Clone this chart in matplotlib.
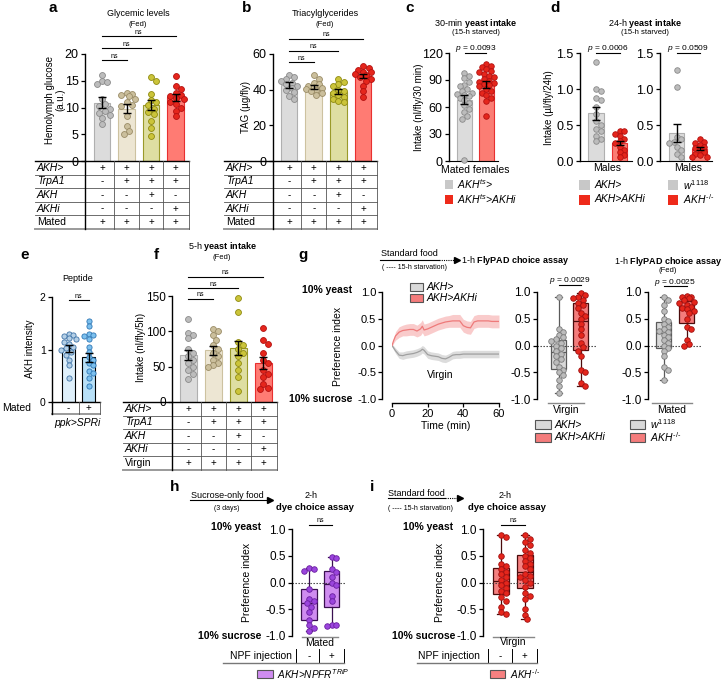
import numpy as np
import matplotlib.pyplot as plt
from matplotlib.lines import Line2D
from matplotlib.patches import Rectangle

plt.rcParams['font.family'] = ['Liberation Sans', 'DejaVu Sans']
plt.rcParams['mathtext.fontset'] = 'custom'
plt.rcParams['mathtext.rm'] = 'Liberation Sans'
plt.rcParams['mathtext.it'] = 'Liberation Sans:italic'
plt.rcParams['mathtext.bf'] = 'Liberation Sans:bold'
plt.rcParams['axes.unicode_minus'] = False
plt.rcParams['font.size'] = 7

# ---------------- data ----------------
# a: hemolymph glucose (a.u.)
a_means = [10.9, 9.8, 10.5, 11.9]
a_sems = [1.0, 0.85, 0.9, 0.65]
a_pts = [
    [16.0, 15.0, 14.7, 14.3, 11.5, 10.6, 10.2, 9.8, 9.4, 9.0, 8.6, 8.0, 7.0],
    [12.7, 12.5, 12.3, 12.1, 11.5, 11.0, 10.5, 10.3, 8.5, 6.5, 5.6, 5.1],
    [15.7, 15.0, 12.5, 11.4, 11.0, 10.5, 9.8, 9.2, 8.8, 7.5, 6.1, 4.6],
    [15.8, 14.0, 13.4, 12.8, 12.4, 12.1, 11.8, 11.5, 11.0, 10.6, 10.0, 9.4, 8.4],
]
# b: TAG (ug/fly)
b_means = [42.8, 41.5, 38.8, 47.8]
b_sems = [1.7, 1.3, 1.4, 1.2]
b_pts = [
    [48.5, 47, 46, 45, 44, 43, 42, 41, 40, 38.5, 36.5, 35],
    [48, 46, 44, 43, 42, 41.5, 41, 40.5, 40, 39, 38, 37],
    [46, 44.5, 43, 42, 40, 39, 38, 37, 36, 35, 33.5, 33],
    [53, 52, 51, 50, 50, 49, 48, 47, 46, 45, 42, 39, 36],
]
# c: 30-min yeast intake
c_means = [68, 85]
c_sems = [5, 3.5]
c_pts = [
    [98, 95, 92, 88, 85, 83, 80, 78, 76, 75, 73, 72, 70, 68, 65, 62, 58, 55, 50, 47, 1],
    [108, 106, 104, 102, 100, 99, 97, 95, 93, 91, 89, 88, 87, 86, 85, 83, 80, 78, 76, 73, 70, 67, 50],
]
# d: 24-h yeast intake (males)
d1_means = [0.66, 0.25]
d1_sems = [0.09, 0.03]
d1_pts = [
    [1.38, 1.0, 0.97, 0.88, 0.85, 0.75, 0.65, 0.55, 0.5, 0.45, 0.42, 0.35, 0.3, 0.28],
    [0.42, 0.42, 0.38, 0.35, 0.3, 0.28, 0.25, 0.2, 0.15, 0.12, 0.08, 0.05],
]
d2_means = [0.39, 0.17]
d2_sems = [0.12, 0.02]
d2_pts = [
    [1.26, 1.03, 0.33, 0.3, 0.27, 0.25, 0.2, 0.15, 0.1, 0.05],
    [0.3, 0.27, 0.25, 0.22, 0.2, 0.18, 0.15, 0.12, 0.1, 0.08, 0.06, 0.05],
]
# e: AKH intensity
e_means = [1.02, 0.85]
e_sems = [0.06, 0.09]
e_pts = [
    [1.3, 1.28, 1.25, 1.22, 1.2, 1.15, 1.1, 1.05, 1.02, 1.0, 0.95, 0.9, 0.8, 0.7, 0.45],
    [1.55, 1.45, 1.3, 1.28, 1.25, 1.2, 1.05, 0.95, 0.85, 0.8, 0.75, 0.7, 0.6, 0.55, 0.45, 0.3],
]
# f: 5-h yeast intake
f_means = [67, 73, 76, 55]
f_sems = [7, 6, 10, 8]
f_pts = [
    [118, 98, 95, 90, 75, 70, 65, 60, 55, 50, 45, 40, 32],
    [103, 100, 95, 88, 80, 75, 70, 65, 60, 55, 52, 50],
    [147, 128, 85, 80, 75, 70, 65, 55, 45, 35, 15],
    [105, 88, 82, 70, 60, 55, 45, 40, 35, 25, 20, 18],
]
# g: FlyPAD preference over time
g_time = [0, 1, 2, 4, 6, 8, 10, 12, 14, 16, 17, 18, 20, 22, 24, 26, 28, 30,
          32, 34, 36, 38, 40, 42, 44, 46, 48, 50, 52, 54, 56, 58, 60]
g_red = [0.00, 0.10, 0.18, 0.25, 0.28, 0.29, 0.30, 0.30, 0.27, 0.31, 0.36, 0.29, 0.31, 0.34, 0.37, 0.40, 0.42, 0.44,
         0.45, 0.46, 0.46, 0.46, 0.37, 0.34, 0.33, 0.44, 0.46, 0.46, 0.46, 0.46, 0.45, 0.45, 0.45]
g_red_sem = [0.02, 0.05, 0.08, 0.10, 0.10, 0.11, 0.11, 0.11, 0.11, 0.12, 0.12, 0.11, 0.11, 0.11, 0.11, 0.11, 0.11, 0.11,
             0.11, 0.12, 0.12, 0.12, 0.12, 0.12, 0.12, 0.12, 0.12, 0.12, 0.12, 0.12, 0.12, 0.12, 0.12]
g_gray = [0.00, -0.05, -0.10, -0.18, -0.19, -0.17, -0.16, -0.15, -0.13, -0.10, -0.07, -0.09, -0.17, -0.19, -0.20, -0.21,
          -0.24, -0.25, -0.22, -0.18, -0.17, -0.17, -0.16, -0.16, -0.16, -0.16, -0.16, -0.16, -0.16, -0.16, -0.16,
          -0.16, -0.16]
g_gray_sem = [0.02, 0.04, 0.05, 0.06, 0.07, 0.07, 0.07, 0.07, 0.07, 0.07, 0.07, 0.07, 0.07, 0.07, 0.07, 0.07,
              0.07, 0.07, 0.07, 0.07, 0.07, 0.07, 0.07, 0.07, 0.07, 0.07, 0.07, 0.07, 0.07, 0.07, 0.07, 0.07, 0.07]
g1_pts = [
    [0.9, 0.3, 0.25, 0.2, 0.15, 0.12, 0.08, 0.05, 0.0, -0.05, -0.1, -0.15, -0.2, -0.25, -0.3,
     -0.4, -0.45, -0.5, -0.55, -0.65, -0.75, -0.88],
    [0.98, 0.95, 0.9, 0.88, 0.85, 0.8, 0.75, 0.7, 0.6, 0.55, 0.5, 0.4, 0.3, 0.2, 0.05, -0.03,
     -0.1, -0.2, -0.45, -0.5, -0.7, -0.75],
]
g2_pts = [
    [0.9, 0.85, 0.75, 0.65, 0.5, 0.45, 0.4, 0.35, 0.3, 0.28, 0.25, 0.2, 0.15, 0.1, 0.05, 0.0,
     -0.05, -0.1, -0.2, -0.4, -0.45, -0.65],
    [0.92, 0.9, 0.9, 0.88, 0.85, 0.82, 0.8, 0.75, 0.72, 0.7, 0.68, 0.65, 0.6, 0.5, 0.35, 0.3,
     0.1, 0.02, 0.0],
]
# h / i: dye choice assay
h_pts = [
    [0.27, 0.25, 0.22, -0.12, -0.3, -0.35, -0.38, -0.45, -0.55, -0.7, -0.8, -0.85, -0.9],
    [0.48, 0.45, 0.25, 0.2, 0.1, 0.0, -0.05, -0.25, -0.35, -0.8, -0.8, -0.82],
]
i_pts = [
    [0.88, 0.85, 0.5, 0.35, 0.3, 0.25, 0.2, 0.15, 0.1, 0.05, 0.0, -0.05, -0.1, -0.15, -0.2,
     -0.28, -0.35, -0.45, -0.55, -0.58],
    [0.88, 0.82, 0.75, 0.7, 0.6, 0.56, 0.5, 0.45, 0.4, 0.35, 0.3, 0.25, 0.15, 0.12, 0.1, 0.05,
     0.0, -0.08, -0.2, -0.25, -0.3, -0.5, -0.6, -0.68],
]

rows_mated = ['AKH>', 'TrpA1', 'AKH', 'AKHi', 'Mated']
rows_virgin = ['AKH>', 'TrpA1', 'AKH', 'AKHi', 'Virgin']
geno_vals = [['+', '+', '+', '+'], ['-', '+', '+', '+'], ['-', '-', '+', '-'],
             ['-', '-', '-', '+'], ['+', '+', '+', '+']]
pref_ticks = [-1.0, -0.5, 0.0, 0.5, 1.0]
pref_labels = ['-1.0', '-0.5', '0.0', '0.5', '1.0']

# colours
bar_fill4 = ['#dcdcdc', '#ede6d3', '#dedea2', '#ff7b73']
bar_edge4 = ['#b0b0b0', '#cdc2a0', '#9a9a2a', '#e83030']
dot_fill4 = ['#bcbcbc', '#cbbf9c', '#cbc43a', '#e5261c']
dot_edge4 = ['#8a8a8a', '#9a8c66', '#8f8a10', '#b31010']
bar_fill2 = ['#dcdcdc', '#fb7d74']
bar_edge2 = ['#b0b0b0', '#e83030']
dot_fill2 = ['#bcbcbc', '#e5261c']
dot_edge2 = ['#8a8a8a', '#b31010']

# ---------------- helpers ----------------
W, H = 722, 681
fig = plt.figure(figsize=(W / 100, H / 100), dpi=100)


def pax(x0, y0, x1, y1):
    ax = fig.add_axes([x0 / W, 1 - y1 / H, (x1 - x0) / W, (y1 - y0) / H])
    ax.patch.set_visible(False)
    return ax


def ftext(x, y, s, **kw):
    kw.setdefault('ha', 'center')
    kw.setdefault('va', 'center')
    fig.text(x / W, 1 - y / H, s, **kw)


def fline(xs, ys, **kw):
    kw.setdefault('color', 'black')
    kw.setdefault('lw', 0.8)
    fig.add_artist(Line2D([x / W for x in xs], [1 - y / H for y in ys], **kw))


def fbox(x, y, w, h, fc, ec='none', lw=0.8):
    fig.add_artist(Rectangle((x / W, 1 - (y + h / 2) / H), w / W, h / H,
                             facecolor=fc, edgecolor=ec, lw=lw))


def arrow_tip(x, y):
    fig.add_artist(Line2D([x / W], [1 - y / H], marker='>', ms=4, color='black', lw=0))


def swarm(ypx, d, maxk=3):
    # simple deterministic beeswarm, offsets in pixels
    order = np.argsort(-ypx, kind='stable')
    placed = []
    off = np.zeros(len(ypx))
    for i in order:
        y = ypx[i]
        best, best_gap = 0.0, -1
        for k in [0] + [s * m for m in range(1, maxk + 1) for s in (1, -1)]:
            x = k * d * 0.45
            gap = min([np.hypot(x - px, y - py) for px, py in placed] + [99])
            if gap >= 0.85 * d:
                best = x
                break
            if gap > best_gap:
                best, best_gap = x, gap
        placed.append((best, y))
        off[i] = best
    return off


def dots(ax, pos, vals, fc, ec, ppx, ppy, d=6, s=18):
    vals = np.asarray(vals, float)
    off = swarm(vals * ppy, d)
    ax.scatter(pos + off / ppx, vals, s=s, c=fc, edgecolors=ec, linewidths=0.6,
               zorder=3, clip_on=False)


def yaxis(ax, ylim, ticks, labels=None, fs=9):
    ax.set_ylim(ylim)
    ax.set_yticks(ticks)
    if labels is not None:
        ax.set_yticklabels(labels)
    for s in ['top', 'right', 'bottom']:
        ax.spines[s].set_visible(False)
    ax.spines['left'].set_linewidth(1.0)
    ax.tick_params(axis='y', length=3, width=0.9, pad=1.5, labelsize=fs)
    ax.set_xticks([])


def bar_panel(x0, x1, c0, sp, yt, yb, ylim, ticks, means, sems, pts, fills, edges, dfc, dec,
              fs=9, labels=None, d=6, s=18):
    ax = pax(x0, yt, x1, yb)
    ax.set_xlim((x0 - c0) / sp, (x1 - c0) / sp)
    yaxis(ax, ylim, ticks, labels, fs)
    pos = np.arange(len(means))
    ax.bar(pos, means, width=0.68, color=fills, edgecolor=edges, linewidth=0.8, zorder=1)
    ppy = (yb - yt) / (ylim[1] - ylim[0])
    for i, v in enumerate(pts):
        dots(ax, pos[i], v, dfc[i], dec[i], sp, ppy, d=d, s=s)
    ax.errorbar(pos, means, yerr=sems, fmt='none', ecolor='black', elinewidth=1.0,
                capsize=3, capthick=1.0, zorder=4)
    return ax


def table(x0, x1, c0, sp, ytop, rh, rows, vals, label_x, italic_rows, line_left=None):
    n = len(rows)
    ybot = ytop + n * rh
    left = label_x - 2 if line_left is None else line_left
    fline([left, x1], [ytop, ytop], lw=1.0)
    for k in range(1, n + 1):
        yy = ytop + k * rh
        if k == n:
            fline([left, x1], [yy, yy], color='#9a9a9a', lw=1.4)
        else:
            fline([left, x1], [yy, yy], color='#555555', lw=0.6)
    ncol = len(vals[0])
    xs = [x0] + [c0 + (j + 0.5) * sp for j in range(ncol - 1)] + [x1]
    for j, xx in enumerate(xs):
        fline([xx, xx], [ytop, ybot], color='black' if j == 0 else '#555555',
              lw=1.0 if j == 0 else 0.6)
    for i, r in enumerate(rows):
        yc = ytop + (i + 0.5) * rh
        ftext(label_x, yc, r, ha='left', fontsize=7.5,
              style='italic' if i in italic_rows else 'normal')
        for j, v in enumerate(vals[i]):
            ftext(c0 + j * sp, yc, v, fontsize=7)


def bracket(xa, xb, y, s, fs=5, dy=4):
    fline([xa, xb], [y, y], lw=0.8)
    ftext((xa + xb) / 2, y - dy, s, fontsize=fs)


def box_panel(x0, x1, c0, sp, yt, yb, groups, fcs, ecs, dfcs, decs, fs=8.5):
    ax = pax(x0, yt, x1, yb)
    ax.set_xlim((x0 - c0) / sp, (x1 - c0) / sp)
    yaxis(ax, (-1, 1), pref_ticks, pref_labels, fs)
    ax.plot([(x0 - c0) / sp, (x1 - c0) / sp], [0, 0], ls=(0, (1.2, 1.5)), color='#333333',
            lw=0.8, zorder=2, clip_on=False)
    ppy = (yb - yt) / 2.0
    for k, g in enumerate(groups):
        ax.boxplot([g], positions=[k], widths=0.68, whis=(0, 100), patch_artist=True,
                   showfliers=False, capwidths=0.3, manage_ticks=False, zorder=1,
                   boxprops=dict(facecolor=fcs[k], edgecolor=ecs[k], linewidth=0.9),
                   medianprops=dict(color=ecs[k], linewidth=0.9),
                   whiskerprops=dict(color=ecs[k], linewidth=0.9),
                   capprops=dict(color=ecs[k], linewidth=0.9))
        dots(ax, k, g, dfcs[k], decs[k], sp, ppy, d=5.5, s=16)
    return ax


# ---------------- panel a ----------------
ftext(53, 8, 'a', fontsize=11, weight='bold')
ftext(138, 14, 'Glycemic levels', fontsize=6.5)
ftext(138, 24, '(Fed)', fontsize=5.5)
bar_panel(85, 189, 102, 24.5, 54, 161, (0, 20), [0, 5, 10, 15, 20],
          a_means, a_sems, a_pts, bar_fill4, bar_edge4, dot_fill4, dot_edge4)
ftext(55, 100, 'Hemolymph glucose\n(a.u.)', rotation=90, fontsize=7, linespacing=1.1)
table(85, 189, 102, 24.5, 161, 13.6, rows_mated, geno_vals, 37, [0, 1, 2, 3])
for k, yy in zip([1, 2, 3], [60, 48, 36]):
    bracket(102, 102 + k * 24.5, yy, 'ns')

# ---------------- panel b ----------------
ftext(247, 8, 'b', fontsize=11, weight='bold')
ftext(325, 14, 'Triacylglycerides', fontsize=6.5)
ftext(325, 24, '(Fed)', fontsize=5.5)
bar_panel(273, 377, 289, 24.7, 54, 161, (0, 60), [0, 20, 40, 60],
          b_means, b_sems, b_pts, bar_fill4, bar_edge4, dot_fill4, dot_edge4)
ftext(246, 107, 'TAG (µg/fly)', rotation=90, fontsize=7)
table(273, 377, 289, 24.7, 161, 13.6, rows_mated, geno_vals, 226, [0, 1, 2, 3])
for k, yy in zip([1, 2, 3], [62, 51, 39]):
    bracket(289, 289 + k * 24.7, yy, 'ns')

# ---------------- panel c ----------------
ftext(410, 8, 'c', fontsize=11, weight='bold')
ftext(476, 23, r'30-min $\mathbf{yeast\ intake}$', fontsize=6.5)
ftext(476, 33, '(15-h starved)', fontsize=5.5)
axc = bar_panel(449, 498, 464.5, 22, 53, 161, (0, 120), [0, 30, 60, 90, 120],
                c_means, c_sems, c_pts, bar_fill2, bar_edge2, dot_fill2, dot_edge2, d=5.5, s=16)
axc.spines['bottom'].set_visible(True)
ftext(419, 107, 'Intake (nl/fly/30 min)', rotation=90, fontsize=7)
ftext(475, 170, 'Mated females', fontsize=7.5)
bracket(464.5, 486.5, 53, r'$p$ = 0.0093', fs=6, dy=4)
fbox(445, 184, 8, 9, '#c8c8c8')
fbox(445, 199, 8, 9, '#ee2a1a')
ftext(457, 184, r'$AKH^{ts}$>', ha='left', fontsize=7.5, style='italic')
ftext(457, 199, r'$AKH^{ts}$>AKHi', ha='left', fontsize=7.5, style='italic')

# ---------------- panel d ----------------
ftext(555, 8, 'd', fontsize=11, weight='bold')
ftext(645, 23, r'24-h $\mathbf{yeast\ intake}$', fontsize=6.5)
ftext(645, 33, '(15-h starved)', fontsize=5.5)
dticks = [0, 0.5, 1.0, 1.5]
dlabels = ['0.0', '0.5', '1.0', '1.5']
axd1 = bar_panel(580, 632, 596, 23.5, 53, 161, (0, 1.5), dticks, d1_means, d1_sems, d1_pts,
                 bar_fill2, bar_edge2, dot_fill2, dot_edge2, labels=dlabels, d=5.5, s=16)
axd2 = bar_panel(660, 712, 676.5, 23, 53, 161, (0, 1.5), dticks, d2_means, d2_sems, d2_pts,
                 bar_fill2, bar_edge2, dot_fill2, dot_edge2, labels=dlabels, d=5.5, s=16)
for a_ in (axd1, axd2):
    a_.spines['bottom'].set_visible(True)
ftext(549, 108, 'Intake (µl/fly/24h)', rotation=90, fontsize=7)
ftext(607, 168, 'Males', fontsize=7.5)
ftext(688, 168, 'Males', fontsize=7.5)
bracket(596, 619.5, 53, r'$p$ = 0.0006', fs=6, dy=4)
bracket(676.5, 699.5, 53, r'$p$ = 0.0509', fs=6, dy=4)
fbox(579, 185, 11, 10, '#c8c8c8')
fbox(579, 199.5, 11, 10, '#ee2a1a')
ftext(595, 185, 'AKH>', ha='left', fontsize=7.5, style='italic')
ftext(595, 199.5, 'AKH>AKHi', ha='left', fontsize=7.5, style='italic')
fbox(668, 185, 10, 10, '#c8c8c8')
fbox(668, 199.5, 10, 10, '#ee2a1a')
ftext(683, 185, r'$w^{\mathit{1118}}$', ha='left', fontsize=7.5, style='italic')
ftext(683, 199.5, r'$AKH^{\text{-/-}}$', ha='left', fontsize=7.5, style='italic')

# ---------------- panel e ----------------
ftext(25, 255, 'e', fontsize=11, weight='bold')
ftext(78, 278, 'Peptide', fontsize=6.5)
bar_panel(52, 100, 68.5, 20, 297, 402, (0, 2), [0, 1, 2],
          e_means, e_sems, e_pts, ['#dff0fb', '#b8e0f7'], ['black', 'black'],
          ['#b4cfe6', '#7cc0ee'], ['#3f74a8', '#2f77b5'], fs=7.5, d=5.2, s=14)
ftext(30, 349, 'AKH intensity', rotation=90, fontsize=7)
table(52, 100, 68.5, 20, 402, 12.5, ['Mated'], [['-', '+']], 2, [], line_left=52)
ftext(77, 423, 'ppk>SPRi', fontsize=7.5, style='italic')
bracket(68.5, 88.5, 300, 'ns')

# ---------------- panel f ----------------
ftext(156, 255, 'f', fontsize=11, weight='bold')
ftext(222, 247, r'5-h $\mathbf{yeast\ intake}$', fontsize=6.5)
ftext(222, 257, '(Fed)', fontsize=5.5)
bar_panel(172, 277, 188, 25, 296, 402, (0, 150), [0, 50, 100, 150],
          f_means, f_sems, f_pts, bar_fill4, bar_edge4, dot_fill4, dot_edge4, fs=8.5)
ftext(141, 347, 'Intake (nl/fly/5h)', rotation=90, fontsize=7)
table(172, 277, 188, 25, 402, 13.5, rows_virgin, geno_vals, 125, [0, 1, 2, 3])
for k, yy in zip([1, 2, 3], [299, 288, 277]):
    bracket(188, 188 + k * 25, yy, 'ns')

# ---------------- panel g ----------------
ftext(303, 255, 'g', fontsize=11, weight='bold')
ftext(409, 254, 'Standard food', fontsize=6.5)
fline([380, 439], [260, 260], lw=0.8)
fline([439, 455], [260, 260], lw=0.8, ls=(0, (1, 1)))
arrow_tip(457, 260)
ftext(461, 260, r'1-h $\mathbf{FlyPAD\ choice\ assay}$', ha='left', fontsize=6.5)
ftext(414, 268, '( ---- 15-h starvation)', fontsize=5)
ftext(352, 290, '10% yeast', ha='right', fontsize=7.5, weight='bold')
ftext(352, 399, '10% sucrose', ha='right', fontsize=7.5, weight='bold')
ftext(338, 346, 'Preference index', rotation=90, fontsize=7.5)

axg = pax(392, 292, 499, 399)
axg.set_xlim(0, 60)
axg.set_ylim(-1, 1)
t = np.array(g_time)
r_ = np.array(g_red)
rs = np.array(g_red_sem)
g_ = np.array(g_gray)
gs = np.array(g_gray_sem)
axg.fill_between(t, g_ - gs, g_ + gs, color='#dcdcdc', lw=0, zorder=1)
axg.fill_between(t, r_ - rs, r_ + rs, color='#f9c2c2', lw=0, alpha=0.85, zorder=1)
axg.plot(t, g_, color='#a0a0a0', lw=0.9, zorder=2)
axg.plot(t, r_, color='#ee7a7a', lw=0.9, zorder=2)
for s in ['top', 'right']:
    axg.spines[s].set_visible(False)
axg.spines['left'].set_position(('outward', 7.2))
axg.spines['bottom'].set_position(('outward', 2.9))
axg.set_yticks(pref_ticks)
axg.set_yticklabels(pref_labels)
axg.set_xticks([0, 20, 40, 60])
axg.tick_params(length=3, width=0.9, pad=1.2, labelsize=8)
axg.spines['left'].set_linewidth(1.0)
axg.spines['bottom'].set_linewidth(1.0)
ftext(446, 426, 'Time (min)', fontsize=7.5)
ftext(440, 375, 'Virgin', fontsize=7.5)
fbox(410, 287, 13, 8, '#d9d9d9', '#555555')
fbox(410, 298, 13, 8, '#f47c7c', '#555555')
ftext(427, 287, 'AKH>', ha='left', fontsize=7.5, style='italic')
ftext(427, 298, 'AKH>AKHi', ha='left', fontsize=7.5, style='italic')

box_panel(537, 597, 558.5, 22, 292, 399, g1_pts, ['#d9d9d9', '#f47c7c'],
          ['#5a5a5a', '#4a0c0c'], ['#bcbcbc', '#e5261c'], ['#7a7a7a', '#a01010'])
bracket(558.5, 580.5, 285, r'$p$ = 0.0029', fs=6, dy=4)
fline([548, 584], [403, 403], color='#888888', lw=1.0)
ftext(566, 410, 'Virgin', fontsize=7.5)
fbox(535, 424.5, 16, 9, '#d9d9d9', '#555555')
fbox(535, 437.5, 16, 9, '#f47c7c', '#555555')
ftext(555, 424.5, 'AKH>', ha='left', fontsize=7.5, style='italic')
ftext(555, 437.5, 'AKH>AKHi', ha='left', fontsize=7.5, style='italic')

ftext(668, 261, r'1-h $\mathbf{FlyPAD\ choice\ assay}$', fontsize=6.5)
ftext(668, 271, '(Fed)', fontsize=5.5)
box_panel(648, 702, 663.5, 23, 292, 399, g2_pts, ['#d9d9d9', '#f47c7c'],
          ['#5a5a5a', '#4a0c0c'], ['#bcbcbc', '#e5261c'], ['#7a7a7a', '#a01010'])
bracket(663.5, 686.5, 286, r'$p$ = 0.0025', fs=6, dy=4)
fline([652, 692], [403, 403], color='#888888', lw=1.0)
ftext(672, 410, 'Mated', fontsize=7.5)
fbox(630, 424.5, 15, 9, '#d9d9d9', '#555555')
fbox(630, 437.5, 15, 9, '#f47c7c', '#555555')
ftext(650, 424.5, r'$w^{\mathit{1118}}$', ha='left', fontsize=7.5, style='italic')
ftext(650, 437.5, r'$AKH^{\text{-/-}}$', ha='left', fontsize=7.5, style='italic')

# ---------------- panel h ----------------
ftext(175, 487, 'h', fontsize=11, weight='bold')
ftext(227, 495, 'Sucrose-only food', fontsize=6.5)
fline([190, 268], [500, 500], lw=0.8)
arrow_tip(270, 500)
ftext(227, 508, '(3 days)', fontsize=5)
ftext(311, 495, '2-h', fontsize=6.5)
ftext(315, 508, 'dye choice assay', fontsize=6.8, weight='bold')
ftext(261, 527, '10% yeast', ha='right', fontsize=7.5, weight='bold')
ftext(261, 636, '10% sucrose', ha='right', fontsize=7.5, weight='bold')
ftext(247, 582, 'Preference index', rotation=90, fontsize=7.5)
box_panel(292, 345, 309, 22.5, 529, 636, h_pts, ['#cf8cf0', '#cf8cf0'],
          ['#3a1050', '#3a1050'], ['#9b45dd', '#9b45dd'], ['#6a1fa0', '#6a1fa0'])
bracket(309, 331.5, 525, 'ns', fs=5)
fline([302, 338], [637, 637], color='#888888', lw=1.0)
ftext(320, 643, 'Mated', fontsize=7.5)
fline([296, 296], [649, 663], lw=0.7)
fline([319, 319], [649, 663], lw=0.7)
fline([344, 344], [649, 663], lw=0.7)
fline([223, 344], [663, 663], color='#777777', lw=1.0)
ftext(230, 656, 'NPF injection', ha='left', fontsize=7.5)
ftext(309, 656, '-', fontsize=7)
ftext(331, 656, '+', fontsize=7)
fbox(257, 674, 16, 8, '#cf8cf0', '#555555')
ftext(277, 674, r'$AKH$>$NPFR^{TRiP}$', ha='left', fontsize=7.2, style='italic')

# ---------------- panel i ----------------
ftext(372, 487, 'i', fontsize=11, weight='bold')
ftext(416, 493, 'Standard food', fontsize=6.5)
fline([388, 445], [498, 498], lw=0.8)
fline([445, 458], [498, 498], lw=0.8, ls=(0, (1, 1)))
arrow_tip(460, 498)
ftext(421, 508, '( ---- 15-h starvation)', fontsize=5)
ftext(505, 495, '2-h', fontsize=6.5)
ftext(507, 508, 'dye choice assay', fontsize=6.8, weight='bold')
ftext(453, 527, '10% yeast', ha='right', fontsize=7.5, weight='bold')
ftext(455, 636, '10% sucrose', ha='right', fontsize=7.5, weight='bold')
ftext(440, 582, 'Preference index', rotation=90, fontsize=7.5)
box_panel(483, 540, 501, 24, 529, 636, i_pts, ['#f58080', '#f58080'],
          ['#4a0c0c', '#4a0c0c'], ['#e5261c', '#e5261c'], ['#a01010', '#a01010'])
bracket(501, 525, 525, 'ns', fs=5)
fline([493, 534], [637, 637], color='#888888', lw=1.0)
ftext(513, 642, 'Virgin', fontsize=7.5)
fline([488, 488], [649, 663], lw=0.7)
fline([512, 512], [649, 663], lw=0.7)
fline([537, 537], [649, 663], lw=0.7)
fline([417, 537], [663, 663], color='#777777', lw=1.0)
ftext(418, 656, 'NPF injection', ha='left', fontsize=7.5)
ftext(500, 656, '-', fontsize=7)
ftext(524, 656, '+', fontsize=7)
fbox(490, 674, 15, 8, '#f58080', '#555555')
ftext(510, 674, r'$AKH^{\text{-/-}}$', ha='left', fontsize=7.2, style='italic')

fig.savefig('out.png', dpi=100)
